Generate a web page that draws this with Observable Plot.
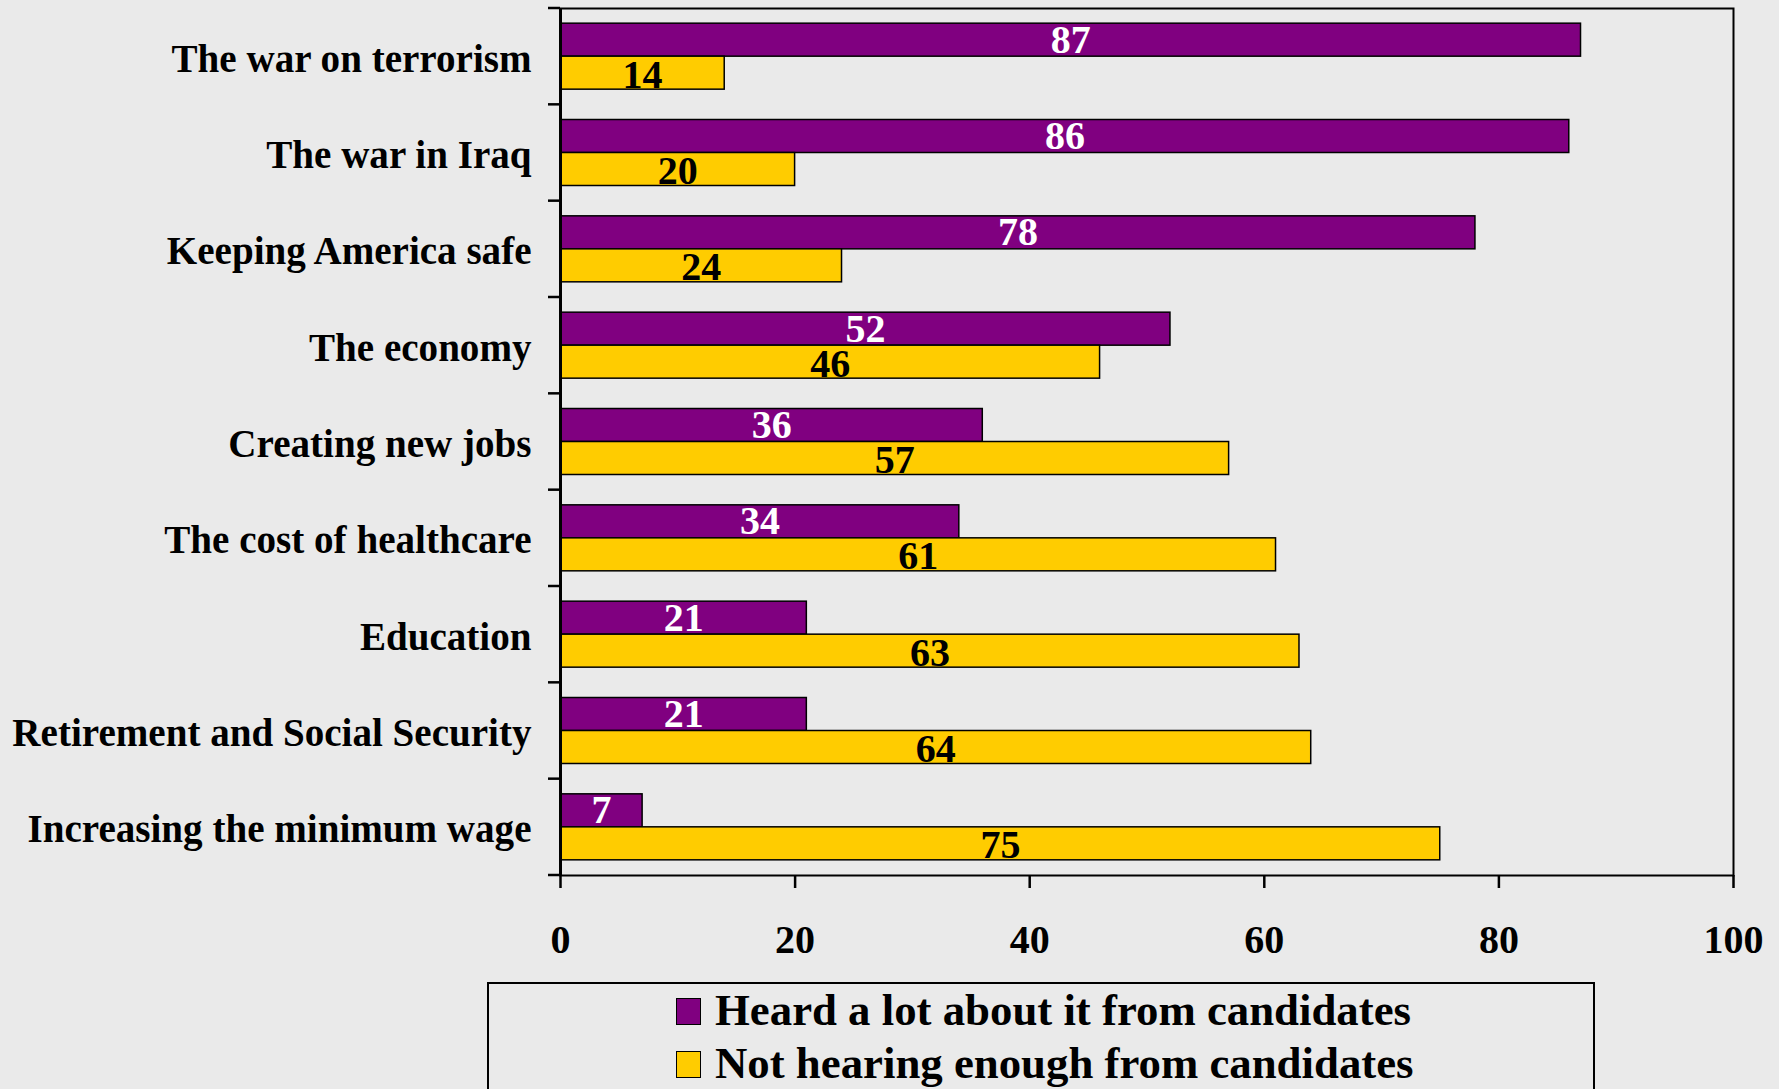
<!DOCTYPE html>
<html>
<head>
<meta charset="utf-8">
<script src="https://cdn.jsdelivr.net/npm/d3@7"></script>
<script src="https://cdn.jsdelivr.net/npm/@observablehq/plot@0.6"></script>
<style>
  html, body { margin: 0; padding: 0; background: #EAEAEA; overflow: hidden; }
  body { width: 1779px; height: 1089px; position: relative; font-family: "Liberation Serif", "Times New Roman", serif; font-weight: bold; }
  #chart { position: absolute; left: 0; top: 0; }
  #legend { position: absolute; left: 487px; top: 982px; width: 1108px; height: 140px; border: 2px solid #000; box-sizing: border-box; }
  .item { position: absolute; left: 187px; height: 53px; line-height: 53px; font-size: 44.8px; white-space: nowrap; color: #000; }
  .sw { display: inline-block; width: 23px; height: 25px; border: 1.5px solid #000; margin-right: 14px; vertical-align: baseline; }
</style>
</head>
<body>
<div id="chart"></div>
<div id="legend"></div>
<script>
// ---- data ----
const categories = [
  "The war on terrorism",
  "The war in Iraq",
  "Keeping America safe",
  "The economy",
  "Creating new jobs",
  "The cost of healthcare",
  "Education",
  "Retirement and Social Security",
  "Increasing the minimum wage"
];
const heardALot = [87, 86, 78, 52, 36, 34, 21, 21, 7];
const notHearingEnough = [14, 20, 24, 46, 57, 61, 63, 64, 75];
const seriesNames = ["Heard a lot about it from candidates", "Not hearing enough from candidates"];
const seriesColors = ["#800080", "#FFCC00"];
const xTicks = [0, 20, 40, 60, 80, 100];

const rows = categories.map((c, i) => ({category: c, heard: heardALot[i], notEnough: notHearingEnough[i]}));

// ---- layout ----
const W = 1779, H = 975;
const mTop = 8, mBottom = 100, mLeft = 560, mRight = 46;
const padInner = 0.315;
const bw = (H - mTop - mBottom) / categories.length * (1 - padInner);
const half = bw / 2;

const chart = Plot.plot({
  width: W, height: H,
  marginTop: mTop, marginBottom: mBottom, marginLeft: mLeft, marginRight: mRight,
  style: {background: "transparent", fontFamily: "'Liberation Serif', 'Times New Roman', serif", fontWeight: "bold", color: "#000", overflow: "visible"},
  x: {domain: [0, 100], label: null},
  y: {domain: categories, paddingInner: padInner, paddingOuter: padInner / 2, round: false, label: null},
  marks: [
    Plot.barX(rows, {x: "heard", y: "category", fill: seriesColors[0], stroke: "#000", strokeWidth: 1.5, insetBottom: half}),
    Plot.barX(rows, {x: "notEnough", y: "category", fill: seriesColors[1], stroke: "#000", strokeWidth: 1.5, insetTop: half}),
    Plot.text(rows, {x: d => d.heard / 2, y: "category", text: d => String(d.heard), fill: "#fff", fontSize: 40, fontWeight: "bold", lineAnchor: "bottom", dy: -4}),
    Plot.text(rows, {x: d => d.notEnough / 2, y: "category", text: d => String(d.notEnough), fill: "#000", fontSize: 40, fontWeight: "bold", lineAnchor: "bottom", dy: half - 2}),
    Plot.frame({stroke: "#000", strokeWidth: 2}),
    Plot.axisX({ticks: xTicks, tickSize: 13, tickPadding: 36, fontSize: 40, stroke: "#000", strokeWidth: 2.5, label: null}),
    Plot.axisY({tickSize: 0, tickPadding: 29, fontSize: 39.1, dy: 2.5, label: null}),
    Plot.ruleX([0], {stroke: "#000", strokeWidth: 3}),
    Plot.ruleY([0], {stroke: "#000", strokeWidth: 3})
  ]
});
document.getElementById("chart").appendChild(chart);

// category boundary tick marks on the left axis (from the y band scale)
const ys = chart.scale("y");
const step = ys.bandwidth / (1 - padInner);
const svg = d3.select(chart);
const bounds = categories.map(c => ys.apply(c) - (step - ys.bandwidth) / 2);
bounds.push(bounds[bounds.length - 1] + step);
svg.append("g").selectAll("line").data(bounds).join("line")
  .attr("x1", mLeft - 12).attr("x2", mLeft)
  .attr("y1", d => d).attr("y2", d => d)
  .attr("stroke", "#000").attr("stroke-width", 2.5);

// legend
const legend = d3.select("#legend");
seriesNames.forEach((name, i) => {
  const item = legend.append("div").attr("class", "item").style("top", (i * 53) + "px");
  item.append("span").attr("class", "sw").style("background", seriesColors[i]);
  item.append("span").text(name);
});
</script>
</body>
</html>
